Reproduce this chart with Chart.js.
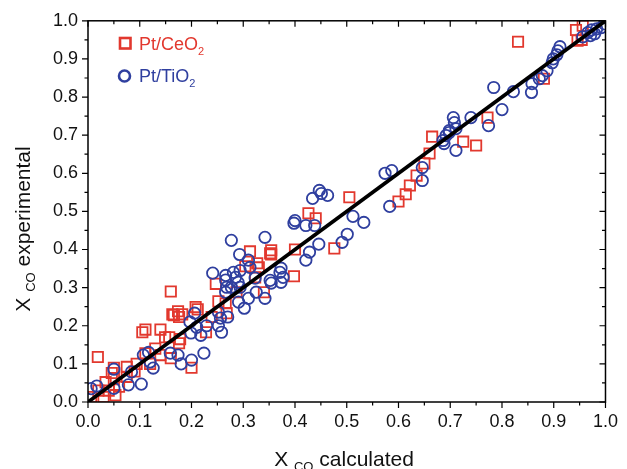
<!DOCTYPE html>
<html>
<head>
<meta charset="utf-8">
<script src="https://cdn.jsdelivr.net/npm/chart.js@4.4.0/dist/chart.umd.min.js"></script>
<style>
  html, body { margin: 0; padding: 0; background: #fff; }
  #wrap { width: 627px; height: 469px; }
</style>
</head>
<body>
<div id="wrap"><canvas id="c" width="627" height="469"></canvas></div>
<script>
  /* ── data ───────────────────────────────────────────────────────── */

  var ceCalc = [0.006, 0.03, 0.053, 0.04, 0.034, 0.019, 0.046, 0.05, 0.075, 0.075,
    0.094, 0.111, 0.13, 0.14, 0.16, 0.2, 0.105, 0.111, 0.14, 0.149,
    0.157, 0.176, 0.178, 0.16, 0.163, 0.174, 0.182, 0.166, 0.176, 0.208,
    0.212, 0.239, 0.228, 0.247, 0.252, 0.266, 0.313, 0.352, 0.354, 0.354,
    0.327, 0.33, 0.4, 0.398, 0.426, 0.44, 0.476, 0.505, 0.6, 0.614,
    0.622, 0.635, 0.65, 0.66, 0.665, 0.725, 0.75, 0.772, 0.831, 0.881,
    0.943, 0.954, 0.946, 0.956, 0.02, 0.06, 0.09, 0.12, 0.05, 0.323,
    0.34, 0.268, 0.287, 0.304];
  var ceExp = [0.013, 0.013, 0.018, 0.03, 0.052, 0.118, 0.076, 0.09, 0.066, 0.092,
    0.1, 0.128, 0.14, 0.123, 0.115, 0.09, 0.183, 0.19, 0.19, 0.17,
    0.17, 0.154, 0.165, 0.29, 0.23, 0.238, 0.23, 0.228, 0.223, 0.249,
    0.243, 0.223, 0.183, 0.31, 0.264, 0.259, 0.395, 0.39, 0.398, 0.387,
    0.364, 0.353, 0.4, 0.33, 0.495, 0.482, 0.403, 0.537, 0.526, 0.545,
    0.568, 0.594, 0.626, 0.652, 0.696, 0.683, 0.673, 0.746, 0.945, 0.848,
    0.976, 0.95, 0.948, 0.987, 0.03, 0.04, 0.08, 0.1, 0.06, 0.327,
    0.288, 0.233, 0.288, 0.356];

  var tiCalc = [0.017, 0.006, 0.05, 0.078, 0.103, 0.05, 0.084, 0.126, 0.107, 0.117,
    0.12, 0.159, 0.174, 0.18, 0.2, 0.224, 0.206, 0.197, 0.21, 0.199,
    0.218, 0.229, 0.258, 0.252, 0.256, 0.252, 0.27, 0.291, 0.302, 0.31,
    0.325, 0.342, 0.323, 0.352, 0.354, 0.277, 0.29, 0.294, 0.266, 0.266,
    0.268, 0.266, 0.294, 0.281, 0.285, 0.241, 0.31, 0.313, 0.293, 0.277,
    0.342, 0.373, 0.371, 0.377, 0.373, 0.4, 0.398, 0.421, 0.438, 0.447,
    0.451, 0.463, 0.434, 0.428, 0.421, 0.446, 0.512, 0.533, 0.501, 0.491,
    0.574, 0.587, 0.583, 0.646, 0.646, 0.692, 0.698, 0.686, 0.688, 0.711,
    0.706, 0.708, 0.711, 0.698, 0.74, 0.774, 0.784, 0.8, 0.822, 0.858,
    0.857, 0.872, 0.878, 0.887, 0.897, 0.899, 0.906, 0.908, 0.912, 0.956,
    0.966, 0.971, 0.973, 0.979, 0.983, 0.992, 0.998];
  var tiExp = [0.042, 0.035, 0.036, 0.045, 0.047, 0.086, 0.079, 0.089, 0.123, 0.13,
    0.105, 0.128, 0.123, 0.1, 0.11, 0.128, 0.233, 0.21, 0.196, 0.181,
    0.175, 0.2, 0.183, 0.236, 0.22, 0.2, 0.223, 0.262, 0.246, 0.272,
    0.288, 0.272, 0.325, 0.319, 0.312, 0.301, 0.314, 0.301, 0.332, 0.32,
    0.301, 0.288, 0.345, 0.34, 0.327, 0.338, 0.372, 0.353, 0.387, 0.424,
    0.432, 0.351, 0.34, 0.327, 0.314, 0.476, 0.469, 0.463, 0.463, 0.555,
    0.547, 0.542, 0.534, 0.393, 0.372, 0.414, 0.487, 0.471, 0.44, 0.419,
    0.6, 0.607, 0.513, 0.615, 0.581, 0.699, 0.707, 0.686, 0.678, 0.66,
    0.746, 0.733, 0.717, 0.712, 0.746, 0.725, 0.825, 0.767, 0.814, 0.835,
    0.812, 0.848, 0.856, 0.869, 0.89, 0.9, 0.911, 0.921, 0.932, 0.958,
    0.969, 0.961, 0.976, 0.966, 0.979, 0.982, 0.992];

  var parityX = [0, 1];
  var parityY = [0, 1];

  var RED = '#e2382e';
  var BLUE = '#2f3f9f';
  var FONT = "'Liberation Sans', Arial, sans-serif";

  function pts(xs, ys) {
    return xs.map(function (x, i) { return { x: x, y: ys[i] }; });
  }

  /* ── frame with major/minor ticks (box, ticks in on top/right) ──── */

  var framePlugin = {
    id: 'frame',
    afterDatasetsDraw: function (chart) {
      var ctx = chart.ctx, a = chart.chartArea;
      var sx = chart.scales.x, sy = chart.scales.y;
      ctx.save();
      ctx.strokeStyle = '#000';
      ctx.lineWidth = 1.5;
      ctx.strokeRect(a.left, a.top, a.right - a.left, a.bottom - a.top);
      ctx.lineWidth = 1.2;
      ctx.beginPath();
      for (var k = 0; k <= 20; k++) {
        var v = k / 20;
        var len = k % 2 === 0 ? 6 : 3.5;
        var px = sx.getPixelForValue(v), py = sy.getPixelForValue(v);
        ctx.moveTo(px, a.bottom); ctx.lineTo(px, a.bottom + len);
        ctx.moveTo(px, a.top); ctx.lineTo(px, a.top + len);
        ctx.moveTo(a.left, py); ctx.lineTo(a.left - len, py);
        ctx.moveTo(a.right, py); ctx.lineTo(a.right - len, py);
      }
      ctx.stroke();
      ctx.restore();
    }
  };

  /* ── text with a subscript piece ────────────────────────────────── */

  function subText(ctx, parts, cx, baseY, align) {
    var total = 0;
    parts.forEach(function (p) {
      ctx.font = p.size + 'px ' + FONT;
      p.w = ctx.measureText(p.t).width;
      total += p.w;
    });
    var x = align === 'left' ? cx : cx - total / 2;
    parts.forEach(function (p) {
      ctx.font = p.size + 'px ' + FONT;
      ctx.fillText(p.t, x, baseY + (p.dy || 0));
      x += p.w;
    });
  }

  var labelsPlugin = {
    id: 'labels',
    afterDraw: function (chart) {
      var ctx = chart.ctx;
      ctx.save();
      ctx.textBaseline = 'alphabetic';
      ctx.textAlign = 'left';

      /* axis titles */
      ctx.fillStyle = '#111';
      subText(ctx, [
        { t: 'X ', size: 21 }, { t: 'CO', size: 13, dy: 5 }, { t: ' calculated', size: 21 }
      ], 344, 466);

      ctx.save();
      ctx.translate(30, 229);
      ctx.rotate(-Math.PI / 2);
      subText(ctx, [
        { t: 'X ', size: 21 }, { t: 'CO', size: 13, dy: 5 }, { t: ' experimental', size: 21 }
      ], 0, 0);
      ctx.restore();

      /* legend */
      ctx.lineWidth = 2.6;
      ctx.strokeStyle = RED;
      ctx.strokeRect(120, 38, 10.5, 10.5);
      ctx.fillStyle = RED;
      subText(ctx, [{ t: 'Pt/CeO', size: 18 }, { t: '2', size: 11, dy: 5 }], 139, 50, 'left');

      ctx.strokeStyle = BLUE;
      ctx.beginPath();
      ctx.arc(124.5, 76, 5.5, 0, Math.PI * 2);
      ctx.stroke();
      ctx.fillStyle = BLUE;
      subText(ctx, [{ t: 'Pt/TiO', size: 18 }, { t: '2', size: 11, dy: 5 }], 139, 82, 'left');
      ctx.restore();
    }
  };

  new Chart(document.getElementById('c'), {
    type: 'scatter',
    data: {
      datasets: [
        {
          label: 'parity',
          type: 'line',
          data: pts(parityX, parityY),
          borderColor: '#000',
          borderWidth: 3.8,
          pointRadius: 0,
          fill: false,
          order: 1
        },
        {
          label: 'Pt/TiO2',
          data: pts(tiCalc, tiExp),
          pointStyle: 'circle',
          pointRadius: 5.7,
          borderColor: BLUE,
          backgroundColor: 'rgba(0,0,0,0)',
          borderWidth: 1.8,
          order: 2
        },
        {
          label: 'Pt/CeO2',
          data: pts(ceCalc, ceExp),
          pointStyle: 'rect',
          pointRadius: 7.3,
          borderColor: RED,
          backgroundColor: 'rgba(0,0,0,0)',
          borderWidth: 1.8,
          order: 3
        }
      ]
    },
    options: {
      responsive: false,
      animation: false,
      layout: { padding: { top: 20, right: 16, left: 0, bottom: 0 } },
      plugins: { legend: { display: false }, tooltip: { enabled: false } },
      scales: {
        x: {
          type: 'linear', min: 0, max: 1,
          grid: { display: false, drawTicks: false },
          border: { display: false },
          ticks: {
            stepSize: 0.1, padding: 9, color: '#111', maxRotation: 0,
            font: { family: FONT, size: 18 },
            callback: function (v) { return v.toFixed(1); }
          },
          afterFit: function (s) { s.height = 67; }
        },
        y: {
          type: 'linear', min: 0, max: 1,
          grid: { display: false, drawTicks: false },
          border: { display: false },
          ticks: {
            stepSize: 0.1, padding: 10, color: '#111',
            font: { family: FONT, size: 18 },
            callback: function (v) { return v.toFixed(1); }
          },
          afterFit: function (s) { s.width = 88; }
        }
      }
    },
    plugins: [framePlugin, labelsPlugin]
  });
</script>
</body>
</html>
